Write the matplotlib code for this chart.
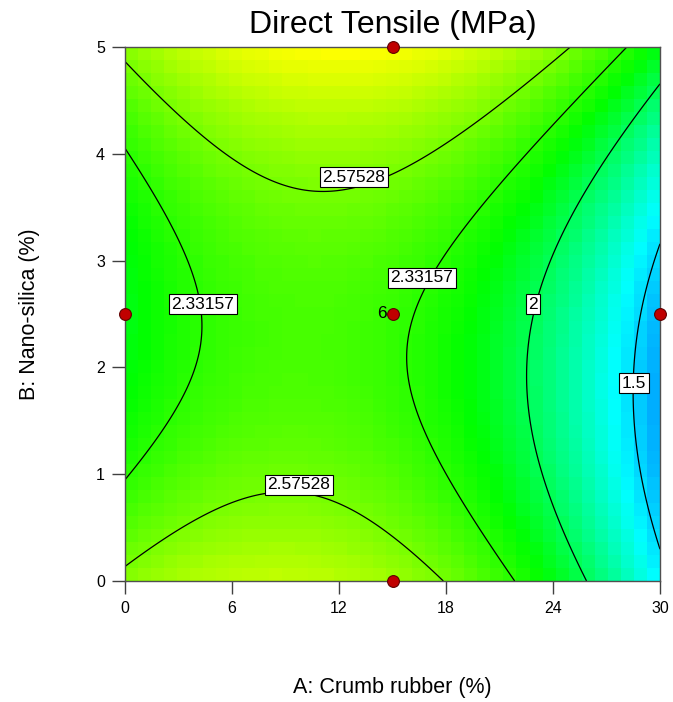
import numpy as np
import matplotlib
matplotlib.use("Agg")
import matplotlib.pyplot as plt
from matplotlib.colors import LinearSegmentedColormap

plt.rcParams['font.family'] = ['Liberation Sans', 'DejaVu Sans']

# Factor ranges
a_range = [0.0, 30.0]   # A: Crumb rubber (%)
b_range = [0.0, 5.0]    # B: Nano-silica (%)

# Quadratic response model in coded units (a, b in [-1, 1])
# Y = c0 + cA*a + cB*b + cAB*a*b + cAA*a^2 + cBB*b^2
coef_names = ["c0", "cA", "cB", "cAB", "cAA", "cBB"]
coef_values = [2.366, -0.379, 0.148, 0.148, -0.598, 0.479]

# Contour levels and their label positions (A, B)
levels = [1.5, 2.0, 2.33157, 2.57528]
label_text = ["2.57528", "2.57528", "2.33157", "2.33157", "2", "1.5"]
label_A = [12.84, 9.76, 4.37, 16.65, 22.88, 28.54]
label_B = [3.78, 0.90, 2.59, 2.84, 2.59, 1.85]

# Design points
design_A = [0, 15, 15, 15, 30]
design_B = [2.5, 0, 2.5, 5, 2.5]
center_reps = 6

# Colour ramp anchored at response values
ramp_values = [0.90, 1.60, 2.20, 3.00, 3.80]
ramp_colors = ["#0000ff", "#00ffff", "#00ff00", "#ffff00", "#ff0000"]


def response(A, B):
    c = dict(zip(coef_names, coef_values))
    a = (A - 15.0) / 15.0
    b = (B - 2.5) / 2.5
    return (c["c0"] + c["cA"] * a + c["cB"] * b + c["cAB"] * a * b
            + c["cAA"] * a ** 2 + c["cBB"] * b ** 2)


vmin, vmax = ramp_values[0], ramp_values[-1]
pos = [(v - vmin) / (vmax - vmin) for v in ramp_values]
cmap = LinearSegmentedColormap.from_list("de_ramp", list(zip(pos, ramp_colors)))

fig = plt.figure(figsize=(6.73, 7.02), dpi=100)
ax = fig.add_axes([125 / 673, 1 - 581 / 702, 535 / 673, 534 / 702])

# coarse shaded cells
n_cells = 41
ea = np.linspace(*a_range, n_cells + 1)
eb = np.linspace(*b_range, n_cells + 1)
ca = 0.5 * (ea[:-1] + ea[1:])
cb = 0.5 * (eb[:-1] + eb[1:])
CA, CB = np.meshgrid(ca, cb)
ax.pcolormesh(ea, eb, response(CA, CB), cmap=cmap, vmin=vmin, vmax=vmax,
              shading="flat", rasterized=True)

# fine grid for contour lines
fa = np.linspace(*a_range, 400)
fb = np.linspace(*b_range, 400)
FA, FB = np.meshgrid(fa, fb)
ax.contour(FA, FB, response(FA, FB), levels=levels, colors="black",
           linewidths=0.9)

for x, y, t in zip(label_A, label_B, label_text):
    ax.text(x, y, t, fontsize=12.5, ha="center", va="center", zorder=5,
            bbox=dict(boxstyle="square,pad=0.14", fc="white", ec="black",
                      lw=0.8))

ax.plot(design_A, design_B, "o", ms=8.5, mfc="#c00000", mec="#600000",
        mew=0.8, clip_on=False, zorder=6)
ax.text(15 - 0.35, 2.5, str(center_reps), fontsize=12.5, ha="right",
        va="center", zorder=6)

ax.set_xlim(*a_range)
ax.set_ylim(*b_range)
ax.set_xticks([0, 6, 12, 18, 24, 30])
ax.set_yticks([0, 1, 2, 3, 4, 5])
ax.tick_params(direction="out", length=9.5, width=1, colors="#404040",
               labelcolor="black", labelsize=11.5, pad=5)
for s in ax.spines.values():
    s.set_color("#505050")
    s.set_linewidth(1)

ax.set_title("Direct Tensile (MPa)", fontsize=23, pad=10)
ax.set_xlabel("A: Crumb rubber (%)", fontsize=15.5, labelpad=44)
ax.set_ylabel("B: Nano-silica (%)", fontsize=15.5, labelpad=40)

fig.savefig("out.png", dpi=100)
